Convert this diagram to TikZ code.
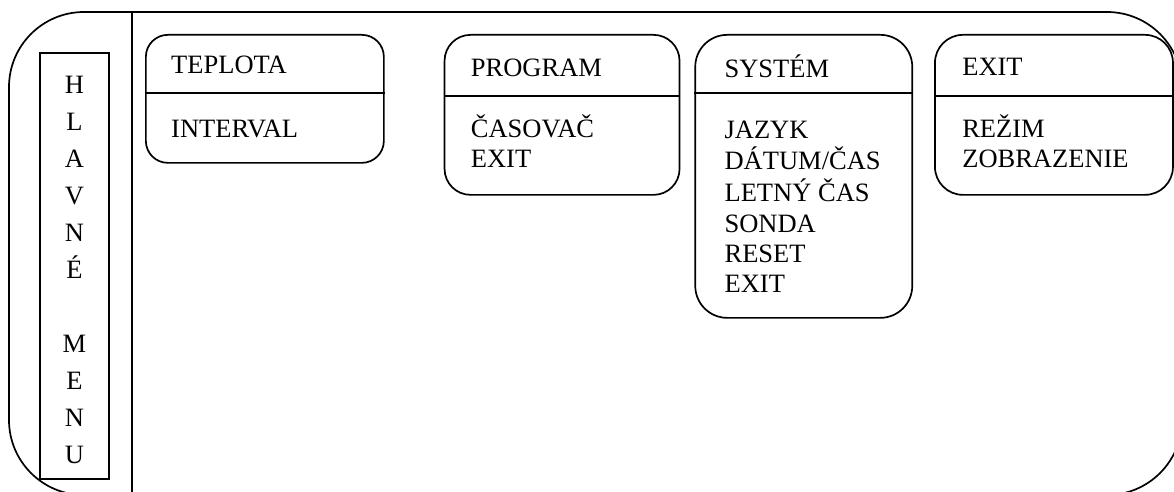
\documentclass[tikz,border=0pt]{standalone}
\usepackage{fontspec}
\setmainfont{Liberation Serif}
\usetikzlibrary{positioning}
\newcommand{\itemlist}[1]{\begin{tabular}[t]{@{}l@{}}#1\end{tabular}}

\begin{document}
\begin{tikzpicture}[x=1pt,y=-1pt,
    mb/.style={draw,line width=1.7pt,inner sep=0pt,anchor=north west},
    t/.style={anchor=base west,inner sep=0pt,font=\fontsize{26.5}{30.4}\selectfont},
    ln/.style={line width=1.7pt}]
    \useasboundingbox (0,0) rectangle (1174,492);
    \clip (0,0) rectangle (1174,492);
    % frame
    \draw[ln,rounded corners=75pt] (9,12) rectangle (1182,495);
    \draw[ln] (132,12) -- (132,492);
    \node[draw,line width=1.5pt,minimum width=69pt,minimum height=426pt,inner sep=0pt] (hm) at (74.5,266) {};
    \node[align=center,inner sep=0pt,font=\fontsize{26.5}{37}\selectfont] (hmT) at ([yshift=-4pt]hm.center) {H\\L\\A\\V\\N\\É\\[37pt]M\\E\\N\\U};
    % menu boxes
    \node[mb,rounded corners=22pt,minimum width=238pt,minimum height=128pt] (tep) at (145,34) {};
    \node[mb,rounded corners=26pt,minimum width=235pt,minimum height=160pt,right=59pt of tep.north east,anchor=north west] (prg) {};
    \node[mb,rounded corners=32pt,minimum width=217pt,minimum height=283pt,right=14pt of prg.north east,anchor=north west] (sys) {};
    \node[mb,rounded corners=28pt,minimum width=238pt,minimum height=160pt,right=21pt of sys.north east,anchor=north west] (ext) {};
    \draw[ln] ([yshift=-59pt]tep.north west) -- ([yshift=-59pt]tep.north east);
    \draw[ln] ([yshift=-62pt]prg.north west) -- ([yshift=-62pt]prg.north east);
    \draw[ln] ([yshift=-59pt]sys.north west) -- ([yshift=-59pt]sys.north east);
    \draw[ln] ([yshift=-62pt]ext.north west) -- ([yshift=-62pt]ext.north east);
    % texts
    \node[t] (tepT) at ([xshift=26pt,yshift=-40pt]tep.north west) {TEPLOTA};
    \node[t] (tepI) at ([xshift=26pt,yshift=-103pt]tep.north west) {INTERVAL};
    \node[t] (prgT) at ([xshift=27pt,yshift=-43pt]prg.north west) {PROGRAM};
    \node[t] (prgI) at ([xshift=27pt,yshift=-103pt]prg.north west) {\itemlist{ČASOVAČ\\EXIT}};
    \node[t] (sysT) at ([xshift=30pt,yshift=-44pt]sys.north west) {SYSTÉM};
    \node[t] (sysI) at ([xshift=30pt,yshift=-104pt]sys.north west) {\itemlist{JAZYK\\DÁTUM/ČAS\\LETNÝ ČAS\\SONDA\\RESET\\EXIT}};
    \node[t] (extT) at ([xshift=28pt,yshift=-42pt]ext.north west) {EXIT};
    \node[t] (extI) at ([xshift=28pt,yshift=-103pt]ext.north west) {\itemlist{REŽIM\\ZOBRAZENIE}};
\end{tikzpicture}
\end{document}
